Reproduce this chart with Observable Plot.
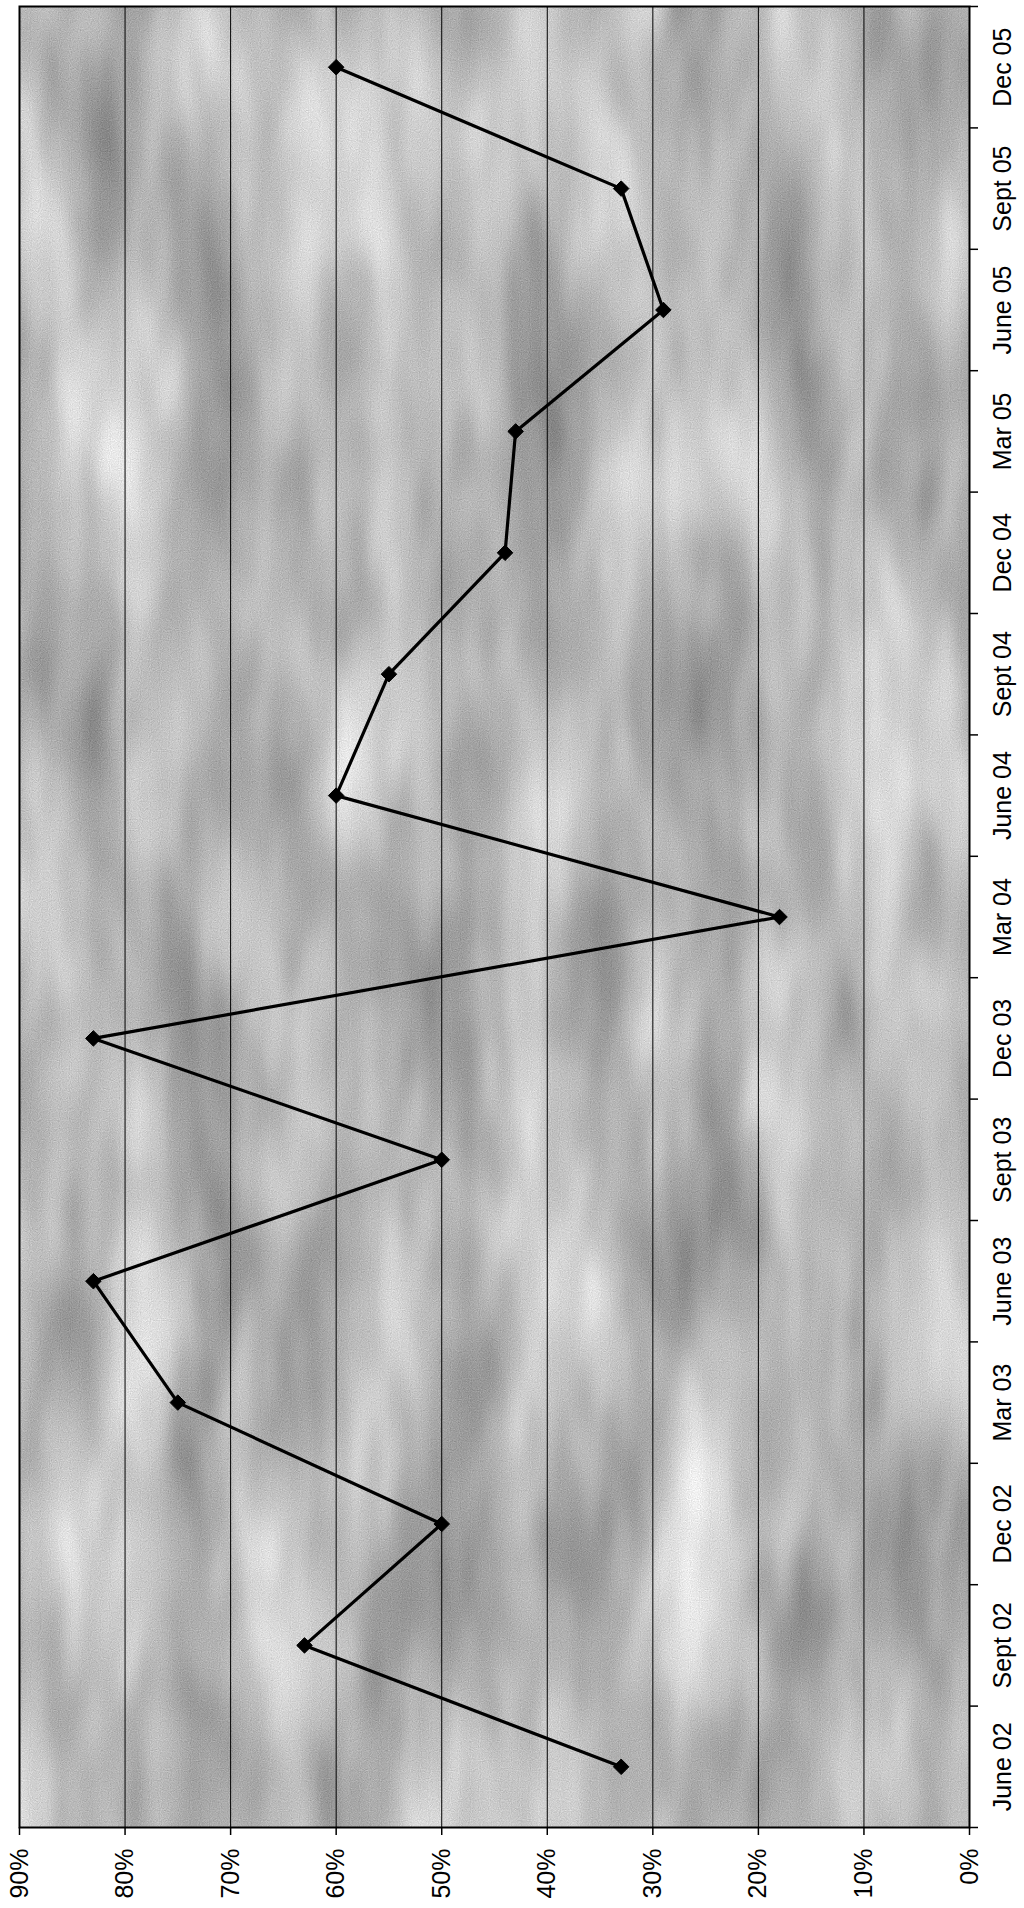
<!DOCTYPE html>
<html>
<head>
<meta charset="utf-8">
<script src="https://cdn.jsdelivr.net/npm/d3@7"></script>
<script src="https://cdn.jsdelivr.net/npm/@observablehq/plot@0.6"></script>
<style>
  html, body { margin: 0; padding: 0; background: white; }
  #chart { width: 1024px; height: 1908px; }
</style>
</head>
<body>
<div id="chart"></div>
<script>
// Categories (quarters), bottom to top
const quarters = ["June 02", "Sept 02", "Dec 02", "Mar 03", "June 03", "Sept 03", "Dec 03",
                  "Mar 04", "June 04", "Sept 04", "Dec 04", "Mar 05", "June 05", "Sept 05", "Dec 05"];
// Series values (share)
const values = [0.33, 0.63, 0.50, 0.75, 0.83, 0.50, 0.83, 0.18, 0.60, 0.55, 0.44, 0.43, 0.29, 0.33, 0.60];
// Value-axis tick labels
const xTicks = [0, 0.1, 0.2, 0.3, 0.4, 0.5, 0.6, 0.7, 0.8, 0.9];

const data = quarters.map((q, i) => ({i, q, v: values[i]}));
const catIndex = quarters.map((q, i) => i);
const catBounds = quarters.map((q, i) => i - 0.5).concat([quarters.length - 0.5]);

const font = "'Liberation Sans', Arial, Helvetica, sans-serif";

const chart = Plot.plot({
  width: 1024,
  height: 1908,
  marginLeft: 19,
  marginRight: 55,
  marginTop: 6,
  marginBottom: 81,
  style: {fontFamily: font, fontSize: "25px", background: "white", color: "black", overflow: "visible"},
  x: {domain: [0, 0.9], reverse: true, label: null},
  y: {domain: [-0.5, quarters.length - 0.5], label: null},
  marks: [
    Plot.frame({fill: "#b4b4b4"}),
    Plot.gridX(xTicks, {stroke: "black", strokeOpacity: 1, strokeWidth: 1}),
    Plot.axisX(xTicks, {
      anchor: "bottom", tickSize: 8, tickPadding: 13, tickRotate: -90,
      tickFormat: d3.format(".0%"), textAnchor: "end", lineAnchor: "middle",
      fontSize: 25, stroke: "black", strokeWidth: 1.5, label: null
    }),
    Plot.axisY(catBounds, {
      anchor: "right", tickSize: 8, tickFormat: () => "", stroke: "black", strokeWidth: 1.5, label: null
    }),
    Plot.axisY(catIndex, {
      anchor: "right", tickSize: 0, tickPadding: 24, tickRotate: -90,
      tickFormat: i => quarters[i], textAnchor: "middle", lineAnchor: "top",
      fontSize: 25, label: null
    }),
    Plot.line(data, {x: "v", y: "i", stroke: "black", strokeWidth: 3.2}),
    Plot.dot(data, {x: "v", y: "i", symbol: "diamond2", r: 7, fill: "black", stroke: "black", strokeWidth: 1}),
    Plot.frame({stroke: "black", strokeWidth: 2})
  ]
});

document.getElementById("chart").appendChild(chart);

// Granite-like texture on the plot-area fill
const svg = chart.tagName.toLowerCase() === "svg" ? chart : chart.querySelector("svg");
const ns = "http://www.w3.org/2000/svg";
const defs = document.createElementNS(ns, "defs");
defs.innerHTML = `
<filter id="granite" x="0" y="0" width="1" height="1" color-interpolation-filters="sRGB">
  <feTurbulence type="fractalNoise" baseFrequency="0.012 0.0035" numOctaves="3" seed="11" result="noise"/>
  <feColorMatrix in="noise" type="matrix" values="0.33 0.33 0.33 0 0  0.33 0.33 0.33 0 0  0.33 0.33 0.33 0 0  0 0 0 0 1" result="gray"/>
  <feComponentTransfer in="gray" result="toned">
    <feFuncR type="linear" slope="0.95" intercept="0.25"/>
    <feFuncG type="linear" slope="0.95" intercept="0.25"/>
    <feFuncB type="linear" slope="0.95" intercept="0.25"/>
  </feComponentTransfer>
  <feTurbulence type="fractalNoise" baseFrequency="0.9" numOctaves="1" seed="3" result="fine"/>
  <feColorMatrix in="fine" type="matrix" values="0.33 0.33 0.33 0 0  0.33 0.33 0.33 0 0  0.33 0.33 0.33 0 0  0 0 0 0 1" result="fineGray"/>
  <feComposite in="toned" in2="fineGray" operator="arithmetic" k1="0" k2="1" k3="0.4" k4="-0.2" result="mixed"/>
  <feComposite in="mixed" in2="SourceGraphic" operator="in"/>
</filter>`;
svg.insertBefore(defs, svg.firstChild);
const frameEl = svg.querySelector('[aria-label="frame"]');
if (frameEl) {
  const rect = frameEl.tagName.toLowerCase() === "rect" ? frameEl : frameEl.querySelector("rect");
  if (rect) rect.setAttribute("filter", "url(#granite)");
}
</script>
</body>
</html>
